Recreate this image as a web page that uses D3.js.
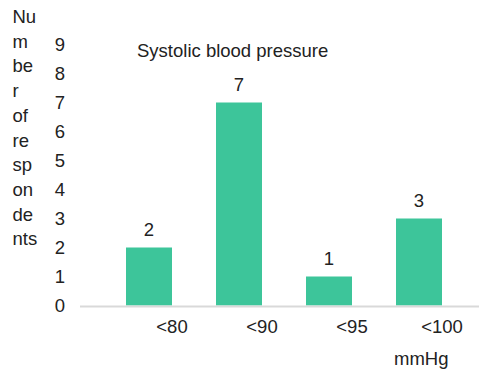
<!DOCTYPE html>
<html>
<head>
<meta charset="utf-8">
<script src="https://cdn.jsdelivr.net/npm/d3@7"></script>
<style>
  body { margin: 0; background: #fff; }
  svg { font-family: "Liberation Sans", Arial, Helvetica, sans-serif; }
</style>
</head>
<body>
<div id="chart"></div>
<script>
const width = 479,
  height = 371;

// data
const categories = ["<80", "<90", "<95", "<100"];
const counts = [2, 7, 1, 3];
const yTicks = [0, 1, 2, 3, 4, 5, 6, 7, 8, 9];
const yTitleLines = ["Nu", "m", "be", "r", "of", "re", "sp", "on", "de", "nts"];
const chartTitle = "Systolic blood pressure";
const xUnit = "mmHg";

const barColor = "#3dc59a";
const textColor = "#222";
const fontSize = "18.5px";

const svg = d3
  .select("#chart")
  .append("svg")
  .attr("width", width)
  .attr("height", height);

const xScale = d3
  .scaleBand()
  .domain(categories)
  .range([104, 464])
  .paddingInner(0.489)
  .paddingOuter(0.2445);

const yScale = d3.scaleLinear().domain([0, 9]).range([305.5, 44.5]);

// y axis (labels only)
const yAxis = d3.axisLeft(yScale).tickValues(yTicks).tickSize(0).tickPadding(0);
const gy = svg.append("g").attr("transform", "translate(65,0)").call(yAxis);
gy.select(".domain").remove();
gy.selectAll("text")
  .attr("fill", textColor)
  .style("font-size", fontSize)
  .style("font-family", "inherit");

// bars
svg
  .append("g")
  .selectAll("rect")
  .data(counts)
  .enter()
  .append("rect")
  .attr("x", (d, i) => xScale(categories[i]))
  .attr("y", (d) => yScale(d))
  .attr("width", xScale.bandwidth())
  .attr("height", (d) => yScale(0) - yScale(d))
  .attr("fill", barColor);

// value labels
svg
  .append("g")
  .selectAll("text")
  .data(counts)
  .enter()
  .append("text")
  .attr("x", (d, i) => xScale(categories[i]) + xScale.bandwidth() / 2)
  .attr("y", (d) => yScale(d) - 12)
  .attr("text-anchor", "middle")
  .attr("fill", textColor)
  .style("font-size", fontSize)
  .text((d) => d);

// baseline
svg
  .append("line")
  .attr("x1", 80)
  .attr("x2", width)
  .attr("y1", yScale(0) + 1)
  .attr("y2", yScale(0) + 1)
  .attr("stroke", "#d9d9d9")
  .attr("stroke-width", 2);

// x labels (shifted right of the bars like the original)
const xAxis = d3.axisBottom(xScale).tickSize(0).tickPadding(0);
const gx = svg.append("g").attr("transform", "translate(23,320)").call(xAxis);
gx.select(".domain").remove();
gx.selectAll("text")
  .attr("fill", textColor)
  .style("font-size", fontSize)
  .style("font-family", "inherit");

// x unit
svg
  .append("text")
  .attr("x", 394)
  .attr("y", 365)
  .attr("fill", textColor)
  .style("font-size", fontSize)
  .text(xUnit);

// chart title
svg
  .append("text")
  .attr("x", 137)
  .attr("y", 57)
  .attr("fill", textColor)
  .style("font-size", fontSize)
  .text(chartTitle);

// y title, broken into chunks
svg
  .append("g")
  .selectAll("text")
  .data(yTitleLines)
  .enter()
  .append("text")
  .attr("x", 12.5)
  .attr("y", (d, i) => 23 + i * 24.7)
  .attr("fill", textColor)
  .style("font-size", fontSize)
  .text((d) => d);
</script>
</body>
</html>
